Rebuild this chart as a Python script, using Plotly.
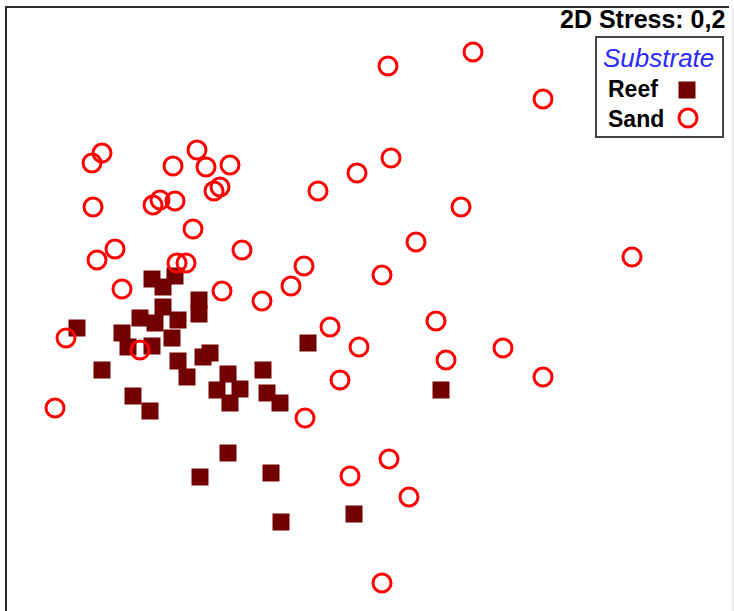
import plotly.graph_objects as go

# NMDS ordination scores per sample, grouped by substrate
reef_x = [-2.15, -1.92, -2.04, -1.68, -1.68, -2.04, -2.27, -1.89, -2.12, -2.45,
          -1.95, -2.39, -2.15, -2.90, -2.65, -1.89, -1.80, -1.64, -1.57, -1.39,
          -1.50, -1.27, -1.37, -1.04, -1.00, -0.87, -2.34, -2.17, -0.59, 0.74,
          -1.39, -1.67, -0.96, -0.86, -0.13]
reef_y = [0.21, 0.24, 0.13, 0.00, -0.14, -0.07, -0.18, -0.20, -0.23, -0.33,
          -0.38, -0.47, -0.46, -0.28, -0.70, -0.61, -0.77, -0.57, -0.53, -0.74,
          -0.90, -0.89, -1.03, -0.70, -0.93, -1.03, -0.96, -1.11, -0.43, -0.90,
          -1.53, -1.77, -1.73, -2.22, -2.14]

sand_x = [1.06, 0.21, 1.76, -2.65, -2.75, -1.70, -1.94, -1.61, -1.37, -1.53,
          -1.47, -2.74, -2.14, -2.07, -1.92, -1.74, -2.52, -2.70, -1.90, -1.81,
          -1.25, -2.45, -1.45, -0.49, -0.10, 0.24, 0.94, 0.49, -0.63, -0.76,
          -1.05, 0.15, 0.69, -0.37, -0.08, -0.27, 0.79, 1.36, 1.76, -0.62,
          0.22, -0.17, 0.42, 0.15, 2.65, -3.01, -3.12, -2.27]
sand_y = [2.48, 2.34, 2.01, 1.47, 1.37, 1.50, 1.34, 1.33, 1.35, 1.09,
          1.13, 0.93, 0.95, 1.00, 0.99, 0.71, 0.51, 0.40, 0.37, 0.37,
          0.50, 0.11, 0.09, 1.09, 1.27, 1.42, 0.93, 0.58, 0.34, 0.14,
          -0.01, 0.25, -0.21, -0.27, -0.47, -0.80, -0.60, -0.48, -0.77, -1.18,
          -1.59, -1.76, -1.97, -2.83, 0.43, -0.38, -1.08, -0.50]

stress_label = "2D Stress: 0,2"
legend_title = "Substrate"
group_names = ["Reef", "Sand"]

REEF_COLOR = "#720000"
SAND_COLOR = "#ff0000"
W, H = 734, 611


def px(x):
    return x / W


def py(y):
    return 1 - y / H


fig = go.Figure()
fig.add_trace(go.Scatter(
    x=reef_x, y=reef_y, mode="markers", name=group_names[0],
    marker=dict(symbol="square", size=17, color=REEF_COLOR,
                line=dict(width=0)),
))
fig.add_trace(go.Scatter(
    x=sand_x, y=sand_y, mode="markers", name=group_names[1],
    marker=dict(symbol="circle-open", size=18, color=SAND_COLOR,
                line=dict(width=3, color=SAND_COLOR)),
))

shapes = [
    # frame: left, top and right edges
    dict(type="line", xref="paper", yref="paper", x0=px(6), x1=px(6),
         y0=py(6), y1=-0.05, line=dict(color="#2a2a2a", width=2)),
    dict(type="line", xref="paper", yref="paper", x0=px(5), x1=px(729),
         y0=py(7), y1=py(7), line=dict(color="#2a2a2a", width=2)),
    dict(type="line", xref="paper", yref="paper", x0=px(733), x1=px(733),
         y0=py(8), y1=-0.05, line=dict(color="#d8d8d8", width=1)),
    # legend box
    dict(type="rect", xref="paper", yref="paper", x0=px(596), x1=px(723),
         y0=py(137), y1=py(37), line=dict(color="#444444", width=2),
         fillcolor="white"),
    # legend swatches
    dict(type="rect", xref="paper", yref="paper", xsizemode="pixel",
         ysizemode="pixel", xanchor=px(687), yanchor=py(90),
         x0=-8.5, x1=8.5, y0=-8.5, y1=8.5,
         fillcolor=REEF_COLOR, line=dict(width=0)),
    dict(type="circle", xref="paper", yref="paper", xsizemode="pixel",
         ysizemode="pixel", xanchor=px(688), yanchor=py(118),
         x0=-9, x1=9, y0=-9, y1=9,
         fillcolor="rgba(0,0,0,0)", line=dict(color=SAND_COLOR, width=3)),
]

font = "Liberation Sans, Arial, sans-serif"
annotations = [
    dict(text="<b>" + stress_label + "</b>", x=px(727), y=py(19),
         xanchor="right", yanchor="middle",
         font=dict(family=font, size=25, color="black")),
    dict(text="<i>" + legend_title + "</i>", x=px(658.5), y=py(58),
         xanchor="center", yanchor="middle",
         font=dict(family=font, size=26, color="#2a2aff")),
    dict(text="<b>" + group_names[0] + "</b>", x=px(606), y=py(89),
         xanchor="left", yanchor="middle",
         font=dict(family=font, size=23, color="black")),
    dict(text="<b>" + group_names[1] + "</b>", x=px(606), y=py(119),
         xanchor="left", yanchor="middle",
         font=dict(family=font, size=23, color="black")),
]
for a in annotations:
    a.update(xref="paper", yref="paper", showarrow=False)

fig.update_layout(
    width=W, height=H,
    margin=dict(l=0, r=0, t=0, b=0),
    paper_bgcolor="white", plot_bgcolor="white",
    showlegend=False,
    xaxis=dict(range=[-3.67, 3.67], visible=False, fixedrange=True),
    yaxis=dict(range=[-3.11, 3.00], visible=False, fixedrange=True),
    shapes=shapes,
    annotations=annotations,
)

fig.write_html("out.html", config={"displayModeBar": False})
